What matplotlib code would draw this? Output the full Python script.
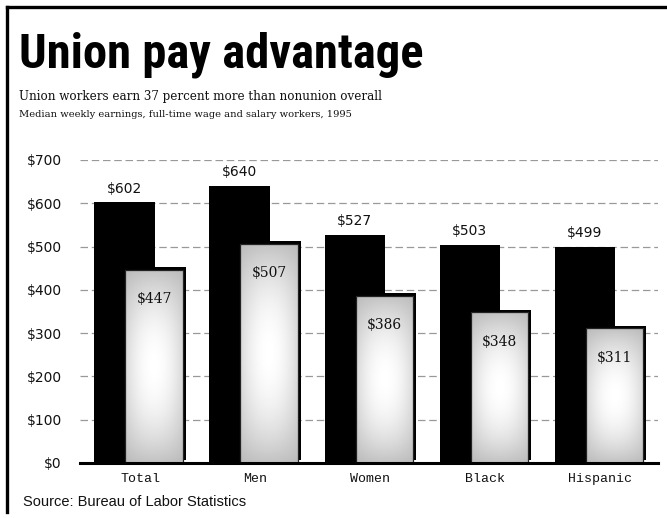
import numpy as np
import matplotlib
matplotlib.use("Agg")
import matplotlib.pyplot as plt
from matplotlib import patheffects as pe
from matplotlib.lines import Line2D

# Median weekly earnings, full-time wage and salary workers, 1995
categories = ["Total", "Men", "Women", "Black", "Hispanic"]
union = [602, 640, 527, 503, 499]
nonunion = [447, 507, 386, 348, 311]
yticks = [0, 100, 200, 300, 400, 500, 600, 700]
ytick_labels = ["$0", "$100", "$200", "$300", "$400", "$500", "$600", "$700"]

W, H = 667, 518
fig = plt.figure(figsize=(W / 100, H / 100), dpi=100)
fig.patch.set_facecolor("white")

ax = fig.add_axes([80 / W, 55 / H, 578 / W, 303 / H])
x = np.arange(len(categories))
off_u, off_n = -0.135, 0.122
w_u, w_n = 0.525, 0.50

# union bars (solid black)
ax.bar(x + off_u, union, width=w_u, color="black", zorder=2)

# nonunion bars: black drop shadow, radial grey fill, thin outline
nb = ax.bar(x + off_n, nonunion, width=w_n, facecolor="#c0c0c0",
            edgecolor="none", zorder=3,
            path_effects=[pe.SimplePatchShadow(offset=(2.0, 2.0),
                                               shadow_rgbFace="black",
                                               alpha=1.0),
                          pe.Normal()])
yy, xx = np.mgrid[-1:1:240j, -1:1:80j]
shade = 1 - 0.15 * xx**2 - 0.24 * yy**2 + 0.12 * xx**2 * yy**2
for rect in nb:
    x0, y0 = rect.get_x(), rect.get_y()
    x1, y1 = x0 + rect.get_width(), y0 + rect.get_height()
    im = ax.imshow(shade, cmap="gray", vmin=0, vmax=1, aspect="auto",
                   extent=(x0, x1, y0, y1), origin="lower", zorder=3.5,
                   interpolation="bilinear")
    im.set_clip_path(rect)
ax.bar(x + off_n, nonunion, width=w_n, facecolor="none",
       edgecolor="#222222", linewidth=0.9, zorder=4)

ax.set_xlim(-0.522, 4.5)
ax.set_ylim(0, 700)

# value labels
for xi, v in zip(x + off_u, union):
    ax.annotate(f"${v}", (xi, v), xytext=(0, 10), textcoords="offset points",
                ha="center", va="center", fontsize=10, family="DejaVu Sans",
                color="#111111", zorder=6,
                bbox=dict(fc="white", ec="none", pad=0.5))
for xi, v in zip(x + off_n, nonunion):
    ax.annotate(f"${v}", (xi, v), xytext=(0, -21), textcoords="offset points",
                ha="center", va="center", fontsize=10, family="DejaVu Serif",
                color="#111111", zorder=6)

# axes styling
ax.set_yticks(yticks)
ax.set_yticklabels(ytick_labels, family="DejaVu Sans", fontsize=10,
                   color="#111111")
ax.set_xticks(x)
ax.set_xticklabels(categories, family=["Liberation Mono", "DejaVu Sans Mono"],
                   fontsize=9.5, color="#111111")
ax.tick_params(axis="y", length=0, pad=13)
ax.tick_params(axis="x", length=0, pad=7)
for s in ["top", "right", "left"]:
    ax.spines[s].set_visible(False)
ax.spines["bottom"].set_linewidth(2.2)
ax.spines["bottom"].set_zorder(7)
ax.yaxis.grid(True, color="#999999", linestyle=(0, (6, 3)), linewidth=0.9)
ax.set_axisbelow(True)

# headings
fig.text(19 / W, 1 - 67 / H, "Union pay advantage",
         family=["Roboto Condensed", "Open Sans Condensed", "DejaVu Sans"],
         weight="bold", stretch="condensed",
         fontsize=35, va="baseline", ha="left")
fig.text(19 / W, 1 - 100 / H,
         "Union workers earn 37 percent more than nonunion overall",
         family="DejaVu Serif", fontsize=8.6, va="baseline", ha="left",
         color="#111111")
fig.text(19 / W, 1 - 117 / H,
         "Median weekly earnings, full-time wage and salary workers, 1995",
         family="DejaVu Serif", fontsize=7.1, va="baseline", ha="left",
         color="#111111")
fig.text(23 / W, 1 - 506 / H, "Source: Bureau of Labor Statistics",
         family=["Liberation Sans", "DejaVu Sans"], fontsize=10.5,
         va="baseline", ha="left", color="#111111")

# outer frame (top and left edges)
fig.add_artist(Line2D([7 / W, 1], [1 - 7 / H, 1 - 7 / H],
                      transform=fig.transFigure, color="black", linewidth=2.4))
fig.add_artist(Line2D([7 / W, 7 / W], [1 - 7 / H, 1 - 512 / H],
                      transform=fig.transFigure, color="black", linewidth=2.4))

fig.savefig("out.png", dpi=100)
